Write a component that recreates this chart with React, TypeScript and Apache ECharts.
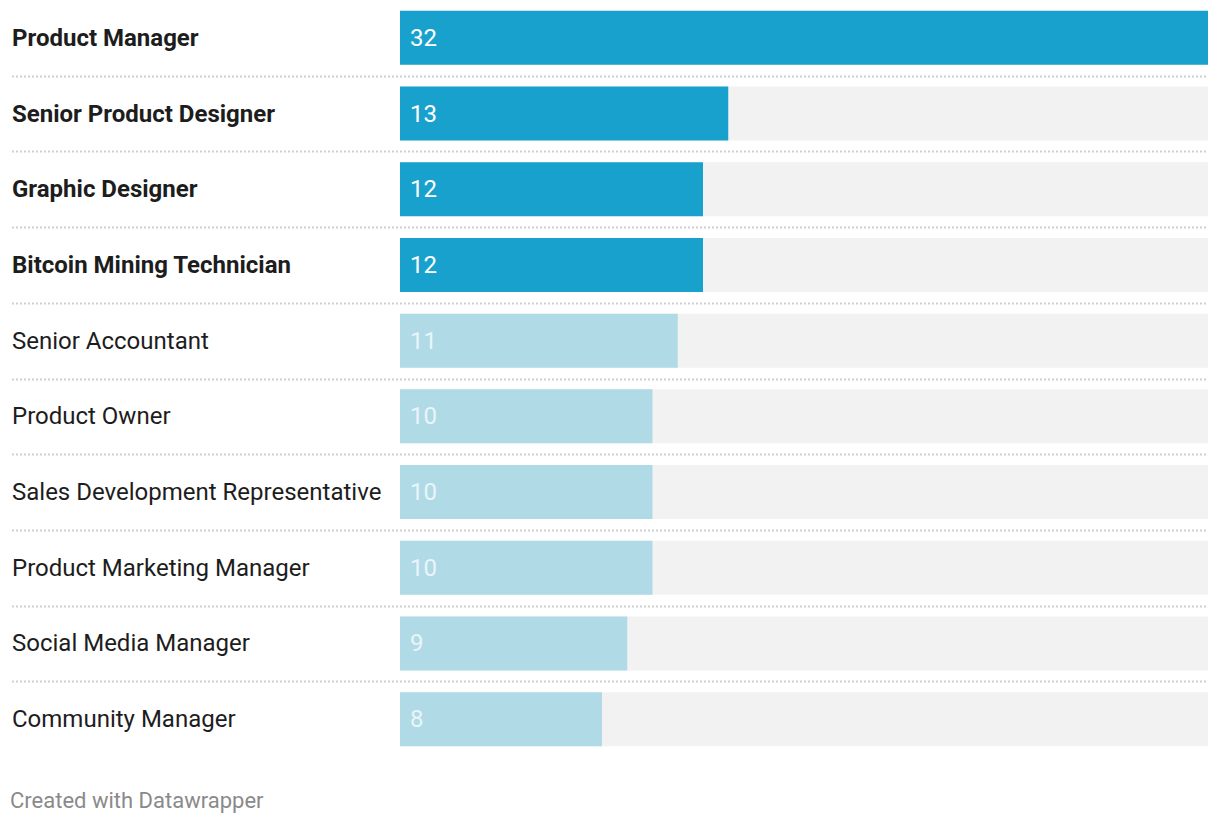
import React, { useEffect, useRef } from "react";
import * as echarts from "echarts";

const categories = [
  "Product Manager",
  "Senior Product Designer",
  "Graphic Designer",
  "Bitcoin Mining Technician",
  "Senior Accountant",
  "Product Owner",
  "Sales Development Representative",
  "Product Marketing Manager",
  "Social Media Manager",
  "Community Manager",
];
const values = [32, 13, 12, 12, 11, 10, 10, 10, 9, 8];
const highlighted = [true, true, true, true, false, false, false, false, false, false];
const maxValue = 32;
const footerText = "Created with Datawrapper";

const DARK = "#18a1cd";
const LIGHT = "#b1dae7";
const TRACK = "#f2f2f2";
const FONT = "Roboto";

export default function App() {
  const ref = useRef<HTMLDivElement>(null);
  useEffect(() => {
    if (!ref.current) return;
    const chart = echarts.init(ref.current, undefined, { renderer: "svg" });
    const option: any = {
      animation: false,
      textStyle: { fontFamily: FONT },
      title: {
        text: footerText,
        left: 5,
        top: 784,
        textStyle: { fontFamily: FONT, fontSize: 22, fontWeight: "normal", color: "#8a8a8a" },
      },
      grid: { left: 400, right: 12, top: -3, height: 760, containLabel: false },
      xAxis: {
        type: "value",
        min: 0,
        max: maxValue,
        show: false,
      },
      yAxis: {
        type: "category",
        data: categories,
        inverse: true,
        axisLine: { show: false },
        axisTick: { show: false },
        splitLine: { show: false },
        axisLabel: {
          align: "left",
          margin: 388,
          fontFamily: FONT,
          fontSize: 24,
          color: "#1d1d1d",
          formatter: (v: string, i: number) =>
            highlighted[i] ? `{b|${v}}` : `{n|${v}}`,
          rich: {
            b: { fontFamily: FONT, fontSize: 24, fontWeight: "bold", color: "#1d1d1d" },
            n: { fontFamily: FONT, fontSize: 24, fontWeight: "normal", color: "#1d1d1d" },
          },
        },
      },
      series: [
        {
          type: "bar",
          data: categories.map(() => maxValue),
          barWidth: 54,
          barGap: "-100%",
          itemStyle: { color: TRACK },
          silent: true,
          z: 1,
        },
        {
          type: "bar",
          data: values.map((v, i) => ({
            value: v,
            itemStyle: { color: highlighted[i] ? DARK : LIGHT },
            label: { color: highlighted[i] ? "#ffffff" : "#e9f5f9" },
          })),
          barWidth: 54,
          barGap: "-100%",
          z: 2,
          label: {
            show: true,
            position: "insideLeft",
            distance: 10,
            fontFamily: FONT,
            fontSize: 24,
            color: "#ffffff",
          },
        },
      ],
    };
    chart.setOption(option);

    const x0 = 12;
    const x1 = 1208;
    const lines: any[] = [];
    for (let i = 0; i < categories.length - 1; i++) {
      const a = chart.convertToPixel({ yAxisIndex: 0 }, i) as number;
      const b = chart.convertToPixel({ yAxisIndex: 0 }, i + 1) as number;
      const y = Math.round((a + b) / 2) + 0.5;
      lines.push({
        type: "line",
        shape: { x1: x0, y1: y, x2: x1, y2: y },
        style: { stroke: "#d0d0d0", lineWidth: 2, lineDash: [2, 2] },
        silent: true,
        z: 0,
      });
    }
    chart.setOption({ graphic: lines });

    return () => chart.dispose();
  }, []);
  return (
    <div
      ref={ref}
      style={{ position: "fixed", left: 0, top: 0, width: 1220, height: 824, background: "#ffffff" }}
    />
  );
}
